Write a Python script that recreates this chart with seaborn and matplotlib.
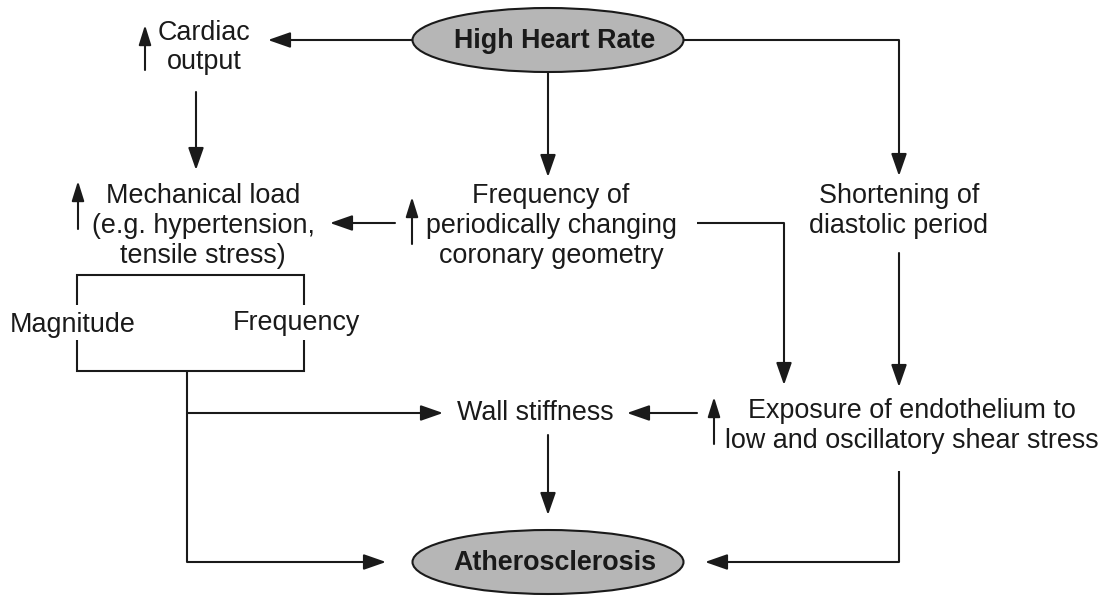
import numpy as np
import pandas as pd
import matplotlib.pyplot as plt
import seaborn as sns
from matplotlib.patches import Ellipse

# Node labels (text content of the diagram)
oval_labels = ["High Heart Rate", "Atherosclerosis"]
cardiac_lines = ["Cardiac", "output"]
mech_lines = ["Mechanical load", "(e.g. hypertension,", "tensile stress)"]
freq_lines = ["Frequency of", "periodically changing", "coronary geometry"]
short_lines = ["Shortening of", "diastolic period"]
expo_lines = ["Exposure of endothelium to", "low and oscillatory shear stress"]
bracket_labels = ["Magnitude", "Frequency"]
wall_label = "Wall stiffness"

sns.set_theme(style="white")
plt.rcParams["font.family"] = ["Liberation Sans", "DejaVu Sans"]

INK = "#1a1a1a"
GRAY = "#b6b6b6"
LW = 1.5
FS = 19.4

fig, ax = plt.subplots(figsize=(11.06, 5.97), dpi=100)
fig.subplots_adjust(0, 0, 1, 1)
ax.set_xlim(0, 1106)
ax.set_ylim(597, 0)
ax.axis("off")


def text_block(lines, cx, cy0, step=30, **kw):
    for i, s in enumerate(lines):
        ax.text(cx, cy0 + i * step, s, ha="center", va="center",
                fontsize=FS, color=INK, **kw)


def arrow(points):
    """Polyline whose last segment ends in a filled arrowhead."""
    pts = np.array(points, dtype=float)
    if len(pts) > 2:
        ax.plot(pts[:-1, 0], pts[:-1, 1], color=INK, lw=LW,
                solid_capstyle="butt", solid_joinstyle="miter")
    ax.annotate("", xy=pts[-1], xytext=pts[-2],
                arrowprops=dict(arrowstyle="-|>,head_length=0.8,head_width=0.28",
                                color=INK, lw=LW, shrinkA=0, shrinkB=0,
                                mutation_scale=17))


def up_arrow(x, y0, y1):
    ax.annotate("", xy=(x, y1), xytext=(x, y0),
                arrowprops=dict(arrowstyle="-|>,head_length=0.8,head_width=0.25",
                                color=INK, lw=LW, shrinkA=0, shrinkB=0,
                                mutation_scale=15))


def line(points):
    pts = np.array(points, dtype=float)
    ax.plot(pts[:, 0], pts[:, 1], color=INK, lw=LW,
            solid_capstyle="butt", solid_joinstyle="miter")


# Ovals (label sits slightly right of the oval centre, as in the original)
for label, (cx, cy) in zip(oval_labels, [(548, 40), (548, 562)]):
    ax.add_patch(Ellipse((cx, cy), 271, 64, facecolor=GRAY,
                         edgecolor=INK, lw=LW))
    ax.text(cx + 7, cy + 1, label, ha="center", va="center", fontsize=FS,
            fontweight="bold", color=INK)

# Text nodes
text_block(cardiac_lines, 204, 33, step=29)
up_arrow(145, 70, 25)
text_block(mech_lines, 203, 196, step=30)
up_arrow(78, 229, 181)
text_block(freq_lines, 551, 196, step=30)
up_arrow(412, 244, 197)
text_block(short_lines, 899, 196, step=30)
text_block(expo_lines, 912, 411, step=30)
up_arrow(714, 444, 397)
ax.text(535, 413, wall_label, ha="center", va="center", fontsize=FS, color=INK)

ax.text(73, 325, bracket_labels[0], ha="center", va="center", fontsize=FS, color=INK)
ax.text(296, 323, bracket_labels[1], ha="center", va="center", fontsize=FS, color=INK)

# Bracket around Magnitude / Frequency
line([(77, 305), (77, 275), (304, 275), (304, 305)])
line([(77, 340), (77, 371), (304, 371), (304, 340)])

# Connectors
arrow([(412, 40), (268, 40)])
arrow([(683, 40), (899, 40), (899, 176)])
arrow([(548, 73), (548, 177)])
arrow([(196, 92), (196, 170)])
arrow([(395, 223), (330, 223)])
arrow([(697, 223), (784, 223), (784, 385)])
arrow([(899, 253), (899, 387)])
arrow([(697, 413), (627, 413)])
arrow([(187, 371), (187, 413), (443, 413)])
arrow([(187, 413), (187, 562), (386, 562)])
arrow([(548, 435), (548, 515)])
arrow([(899, 471), (899, 562), (705, 562)])

fig.savefig("out.png", dpi=100)
